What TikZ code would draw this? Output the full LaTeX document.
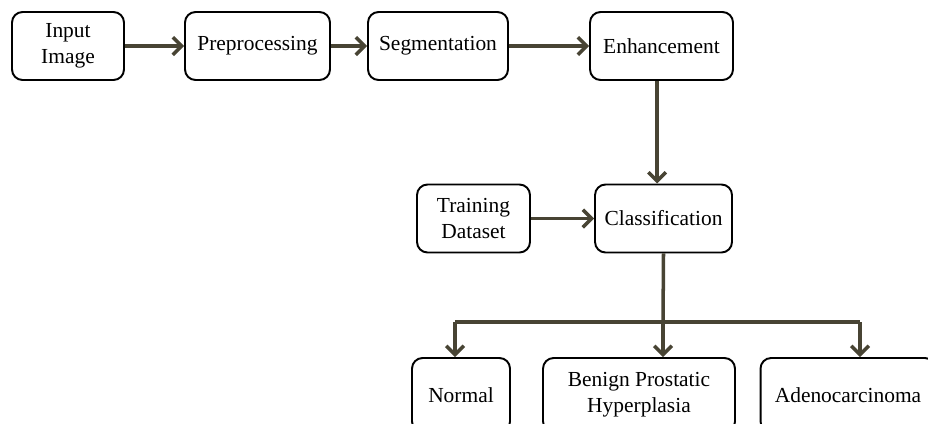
\documentclass[tikz,border=0pt]{standalone}
\usepackage{fontspec}
\setmainfont{Liberation Serif}
\usetikzlibrary{arrows.meta, positioning}
\definecolor{flowline}{RGB}{72,68,52}
\tikzset{
    stagebox/.style={
        draw,
        line width=1.1pt,
        rounded corners=6pt,
        minimum height=1.36cm,
        align=center,
        font=\fontsize{12.2}{15}\selectfont
    },
    flow/.style={-{Straight Barb[length=5pt,width=10pt,line width=2pt]}, line width=2pt, draw=flowline},
    bar/.style={line width=2pt, draw=flowline}
}
\begin{document}
\begin{tikzpicture}[x=0.02cm,y=-0.02cm]
\useasboundingbox (0,0) rectangle (928,423);

% top row
\node[stagebox, minimum width=2.24cm] (input) at (68,46) {Input\\Image};
\node[stagebox, minimum width=2.9cm]  (prep)  at (257.5,46) {Preprocessing};
\node[stagebox, minimum width=2.8cm]  (seg)   at (438,46) {Segmentation};
\node[stagebox, minimum width=2.86cm] (enh)   at (661.5,46) {Enhancement};

% middle row
\node[stagebox, minimum width=2.26cm] (train) at (473.5,218.5) {Training\\Dataset};
\node[stagebox, minimum width=2.74cm] (cls)   at (663.5,218.5) {Classification};

% outputs
\node[stagebox, minimum width=1.96cm, minimum height=1.48cm] (normal) at (461,395) {Normal};
\node[stagebox, minimum width=3.84cm, minimum height=1.48cm] (bph)    at (639,395) {Benign Prostatic\\Hyperplasia};
\node[stagebox, minimum width=3.5cm,  minimum height=1.48cm] (adeno)  at (848,395) {Adenocarcinoma};

% arrows
\draw[flow] (input) -- (prep);
\draw[flow] (prep) -- (seg);
\draw[flow] (seg) -- (enh);
\draw[flow] ([xshift=-2.5]enh.south) -- ([xshift=-2.5]enh.south |- cls.north);
\draw[flow] (train) -- (cls);

% split to the three classes
\coordinate (split) at (663,322);
\draw[bar] (cls.south) -- (split);
\draw[bar] (split -| 455,0) -- (split -| 860,0);
\draw[flow] (split -| 455,0) -- (455,0 |- normal.north);
\draw[flow] (split) -- (split |- bph.north);
\draw[flow] (split -| 860,0) -- (860,0 |- adeno.north);

\end{tikzpicture}
\end{document}
